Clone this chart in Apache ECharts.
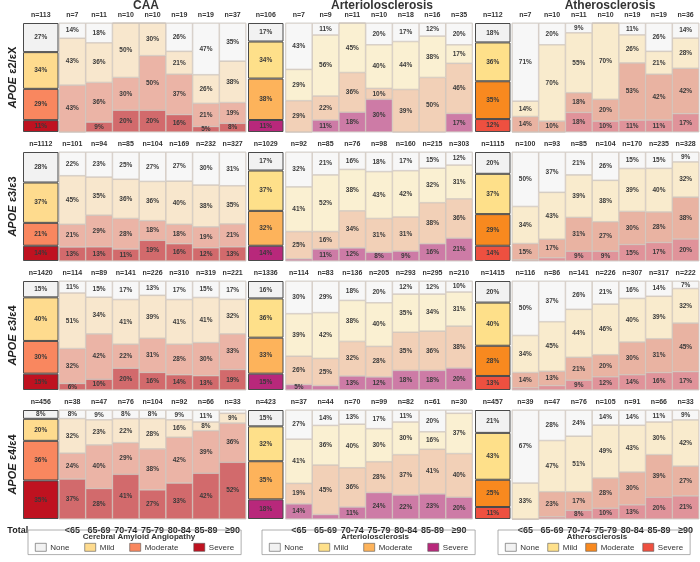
<!DOCTYPE html>
<html><head><meta charset="utf-8">
<script src="https://cdn.jsdelivr.net/npm/echarts@6/dist/echarts.min.js"></script>
<style>html,body{margin:0;padding:0;background:#fff}#c{width:700px;height:562px}</style>
</head><body><div id="c"></div><script>
// ---------- DATA ----------
const categories = ['Total','<65','65-69','70-74','75-79','80-84','85-89','≥90'];
const panels = ['CAA','Arteriolosclerosis','Atherosclerosis'];
const legendTitles = ['Cerebral Amyloid Angiopathy','Arteriolosclerosis','Atherosclerosis'];
const genotypes = ['ε2/εX','ε3/ε3','ε3/ε4','ε4/ε4'];
const levels = ['None','Mild','Moderate','Severe'];

// CAA
const caa_e2x_n    = [113,7,11,10,10,19,19,37];
const caa_e2x_none = [27,14,18,0,0,26,47,35];
const caa_e2x_mild = [34,43,36,50,30,21,26,38];
const caa_e2x_mod  = [29,43,36,30,50,37,21,19];
const caa_e2x_sev  = [11,0,9,20,20,16,5,8];
const caa_e33_n    = [1112,101,94,85,104,169,232,327];
const caa_e33_none = [28,22,23,25,27,27,30,31];
const caa_e33_mild = [37,45,35,36,36,40,38,35];
const caa_e33_mod  = [21,21,29,28,18,18,19,21];
const caa_e33_sev  = [14,13,13,11,19,16,12,13];
const caa_e34_n    = [1420,114,89,141,226,310,319,221];
const caa_e34_none = [15,11,15,17,13,17,15,17];
const caa_e34_mild = [40,51,34,41,39,41,41,32];
const caa_e34_mod  = [30,32,42,22,31,28,30,33];
const caa_e34_sev  = [15,6,10,20,16,14,13,19];
const caa_e44_n    = [456,38,47,76,104,92,66,33];
const caa_e44_none = [8,8,9,8,8,9,11,3];
const caa_e44_mild = [20,32,23,22,28,16,8,9];
const caa_e44_mod  = [36,24,40,29,38,42,39,36];
const caa_e44_sev  = [35,37,28,41,27,33,42,52];
// Arteriolosclerosis
const art_e2x_n    = [106,7,9,11,10,18,16,35];
const art_e2x_none = [17,43,11,0,20,17,12,20];
const art_e2x_mild = [34,29,56,45,40,44,38,17];
const art_e2x_mod  = [38,29,22,36,10,39,50,46];
const art_e2x_sev  = [11,0,11,18,30,0,0,17];
const art_e33_n    = [1029,92,85,76,98,160,215,303];
const art_e33_none = [17,32,21,16,18,17,15,12];
const art_e33_mild = [37,41,52,38,43,42,32,31];
const art_e33_mod  = [32,25,16,34,31,31,38,36];
const art_e33_sev  = [14,2,11,12,8,9,16,21];
const art_e34_n    = [1336,114,83,136,205,293,295,210];
const art_e34_none = [16,30,29,18,20,12,12,10];
const art_e34_mild = [36,39,42,38,40,35,34,31];
const art_e34_mod  = [33,26,25,32,28,35,36,38];
const art_e34_sev  = [15,5,4,13,12,18,18,20];
const art_e44_n    = [423,37,44,70,99,82,61,30];
const art_e44_none = [15,27,14,13,17,11,20,3];
const art_e44_mild = [32,41,36,40,30,30,16,37];
const art_e44_mod  = [35,19,45,36,28,37,41,40];
const art_e44_sev  = [18,14,4,11,24,22,23,20];
// Atherosclerosis
const ath_e2x_n    = [112,7,10,11,10,19,19,36];
const ath_e2x_none = [18,71,20,9,0,11,26,14];
const ath_e2x_mild = [36,14,70,55,70,26,21,28];
const ath_e2x_mod  = [35,14,10,18,20,53,42,42];
const ath_e2x_sev  = [12,0,0,18,10,11,11,17];
const ath_e33_n    = [1115,100,93,85,104,170,235,328];
const ath_e33_none = [20,50,37,21,26,15,15,9];
const ath_e33_mild = [37,34,43,39,38,39,40,32];
const ath_e33_mod  = [29,15,17,31,27,30,28,38];
const ath_e33_sev  = [14,1,3,9,9,15,17,20];
const ath_e34_n    = [1415,116,86,141,226,307,317,222];
const ath_e34_none = [20,50,37,26,21,16,14,7];
const ath_e34_mild = [40,34,45,44,46,40,39,32];
const ath_e34_mod  = [28,14,13,21,20,30,31,45];
const ath_e34_sev  = [13,2,4,9,12,14,16,17];
const ath_e44_n    = [457,39,47,76,105,91,66,33];
const ath_e44_none = [21,67,28,24,14,14,11,9];
const ath_e44_mild = [43,33,47,51,49,43,30,42];
const ath_e44_mod  = [25,0,23,17,28,30,39,27];
const ath_e44_sev  = [11,0,2,8,10,13,20,21];

const table = [
  [[caa_e2x_none,caa_e2x_mild,caa_e2x_mod,caa_e2x_sev,caa_e2x_n],
   [caa_e33_none,caa_e33_mild,caa_e33_mod,caa_e33_sev,caa_e33_n],
   [caa_e34_none,caa_e34_mild,caa_e34_mod,caa_e34_sev,caa_e34_n],
   [caa_e44_none,caa_e44_mild,caa_e44_mod,caa_e44_sev,caa_e44_n]],
  [[art_e2x_none,art_e2x_mild,art_e2x_mod,art_e2x_sev,art_e2x_n],
   [art_e33_none,art_e33_mild,art_e33_mod,art_e33_sev,art_e33_n],
   [art_e34_none,art_e34_mild,art_e34_mod,art_e34_sev,art_e34_n],
   [art_e44_none,art_e44_mild,art_e44_mod,art_e44_sev,art_e44_n]],
  [[ath_e2x_none,ath_e2x_mild,ath_e2x_mod,ath_e2x_sev,ath_e2x_n],
   [ath_e33_none,ath_e33_mild,ath_e33_mod,ath_e33_sev,ath_e33_n],
   [ath_e34_none,ath_e34_mild,ath_e34_mod,ath_e34_sev,ath_e34_n],
   [ath_e44_none,ath_e44_mild,ath_e44_mod,ath_e44_sev,ath_e44_n]]
];

// ---------- STYLE / LAYOUT ----------
const FF = 'Liberation Sans, Arial, sans-serif';
const totalColors = [['#f2f2f2','#fedb8e','#f9875f','#bf1220'],
                     ['#f2f2f2','#fee08a','#fdb35b','#b8287b'],
                     ['#f2f2f2','#fee08a','#f8891f','#ee5040']];
const ageColors   = [['#f7f7f7','#f8e7cd','#ebb4a6','#d26a6c'],
                     ['#f7f7f7','#faf0d2','#f2d0b7','#cd7ba6'],
                     ['#f7f7f7','#f9ebcd','#e9b3a2','#e0939a']];
const rowTop = [23,152,281,410], rowH = 109;
const totLeft = [23,248,475], totW = 35.5;
const ageLeft = [59,285.5,512], ageW = 187;
const titleX = [146,382,610];

const grid = [], xAxis = [], yAxis = [], series = [];
const lblFont = {fontSize:6.5, fontWeight:'bold', color:'#3a3a3a', fontFamily:FF,
                 textBorderWidth:0, textBorderColor:'transparent', textShadowBlur:0};

for (let p = 0; p < 3; p++) {
  for (let r = 0; r < 4; r++) {
    const d = table[p][r];
    const nArr = d[4];
    ['total','age'].forEach(part => {
      const gi = grid.length;
      const isT = part === 'total';
      grid.push({left: isT ? totLeft[p] : ageLeft[p], top: rowTop[r], width: isT ? totW : ageW, height: rowH,
                 show: !isT, backgroundColor:'#e9e9e9', borderColor:'#dcdcdc', borderWidth:1});
      const cats = isT ? categories.slice(0,1) : categories.slice(1);
      const off = isT ? 0 : 1;
      const xi = xAxis.length;
      xAxis.push({type:'category', gridIndex:gi, position:'top', data:cats,
        axisLine:{show:false}, axisTick:{show:false}, splitLine:{show:false},
        axisLabel:{interval:0, margin:4, fontSize:7, fontWeight:'bold', color:'#333', fontFamily:FF,
                   formatter:(v,i)=>'n=' + nArr[i+off]}});
      if (r === 3 && (!isT || p === 0)) {
        xAxis.push({type:'category', gridIndex:gi, position:'bottom', data:cats,
          axisLine:{show:false}, axisTick:{show:false},
          axisLabel:{interval:0, margin:7, fontSize:9, fontWeight:'bold', color:'#222', fontFamily:FF,
                     padding: isT ? [0,46,0,0] : 0}});
      }
      yAxis.push({type:'value', gridIndex:gi, min:0, max:100, show:false});
      const idx = cats.map((c,i)=>i+off);
      const sums = idx.map(k => d[0][k]+d[1][k]+d[2][k]+d[3][k]);
      for (let l = 3; l >= 0; l--) {
        const arr = d[l];
        series.push({
          type:'bar', name: panels[p] + '|' + levels[l], xAxisIndex:xi, yAxisIndex:gi,
          stack:'s'+gi, barCategoryGap:'0%', barWidth:'100%',
          itemStyle:{color: isT ? totalColors[p][l] : ageColors[p][l],
                     borderColor: isT ? '#4a4a4a' : '#cbbfb5', borderWidth: isT ? 1 : 0.6},
          label:{show:true, position:'inside', ...lblFont,
                 formatter: prm => arr[idx[prm.dataIndex]] > 4 ? arr[idx[prm.dataIndex]] + '%' : ''},
          emphasis:{disabled:true},
          data: idx.map((k,i) => arr[k] / sums[i] * 100)
        });
      }
    });
  }
}

const title = panels.map((t,p)=>({text:t, left:titleX[p], top:0, padding:0, textAlign:'center',
  textStyle:{fontSize:12, fontWeight:'bold', color:'#333', fontFamily:FF}}));
const legendLeft = [28,262,498];
const legendGap = [15,15,8];
const legendTitleX = [139,375,597];
legendTitles.forEach((t,p)=>title.push({text:t, left:legendTitleX[p], top:533, padding:0, textAlign:'center',
  textStyle:{fontSize:8, fontWeight:'bold', color:'#333', fontFamily:FF}}));

const legend = panels.map((pn,p)=>({
  left: legendLeft[p], top: 530, orient:'horizontal', itemWidth:11, itemHeight:8, itemGap:legendGap[p],
  padding:[13,7,3,7], borderColor:'#9a9a9a', borderWidth:0.8, selectedMode:false,
  textStyle:{fontSize:8, color:'#333', fontFamily:FF, padding:[0,0,0,-1]},
  formatter: n => n.split('|')[1],
  data: levels.map((lv,l)=>({name: pn+'|'+lv, icon:'rect',
        itemStyle:{color: totalColors[p][l], borderColor:'#555', borderWidth:0.6}}))
}));

const graphic = genotypes.map((g,r)=>({
  type:'text', x:13, y: rowTop[r] + rowH/2, rotation: Math.PI/2,
  style:{text:'{a|APOE} {b|' + g + '}', align:'center', verticalAlign:'middle',
    rich:{a:{fontStyle:'italic', fontWeight:'bold', fontSize:11, fill:'#222', fontFamily:FF},
          b:{fontWeight:'bold', fontSize:11, fill:'#222', fontFamily:FF}}}
}));

const chart = echarts.init(document.getElementById('c'), null, {renderer:'canvas'});
chart.setOption({animation:false, backgroundColor:'#fff', title, legend, grid, xAxis, yAxis, series, graphic});
</script></body></html>
